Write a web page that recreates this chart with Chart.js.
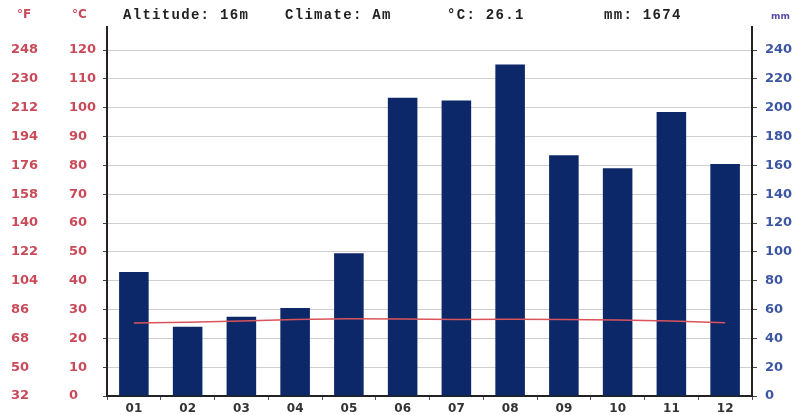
<!DOCTYPE html>
<html>
<head>
<meta charset="utf-8">
<script src="https://cdn.jsdelivr.net/npm/chart.js@4"></script>
<style>
html,body{margin:0;padding:0;background:#fff;}
#wrap{width:802px;height:415px;}
</style>
</head>
<body>
<div id="wrap"><canvas id="c" width="802" height="415"></canvas></div>
<script>
// ---- data ----
const months = ["01","02","03","04","05","06","07","08","09","10","11","12"];
const precipMm = [86, 48, 55, 61, 99, 207, 205, 230, 167, 158, 197, 161];
const tempC = [25.3, 25.6, 26.0, 26.5, 26.8, 26.7, 26.5, 26.6, 26.5, 26.4, 26.0, 25.4];
const headerTexts = ["Altitude: 16m", "Climate: Am", "°C: 26.1", "mm: 1674"];
const unitLabels = ["°F", "°C", "mm"];
const cTickValues = [0,10,20,30,40,50,60,70,80,90,100,110,120];
const fTickValues = [32,50,68,86,104,122,140,158,176,194,212,230,248];
const mmTickValues = [0,20,40,60,80,100,120,140,160,180,200,220,240];

const RED = '#c94a58';
const BLUE = '#3d56a3';
const NAVY = '#0c2868';

const headerPlugin = {
  id: 'header',
  afterDraw(chart) {
    const ctx = chart.ctx;
    ctx.save();
    ctx.textBaseline = 'middle';
    ctx.font = 'bold 12px "DejaVu Sans"';
    ctx.fillStyle = RED;
    ctx.textAlign = 'left';
    ctx.fillText(unitLabels[0], 17, 15);
    ctx.fillText(unitLabels[1], 72, 15);
    ctx.fillStyle = '#5a4aa8';
    ctx.font = 'bold 9px "DejaVu Sans"';
    ctx.fillText(unitLabels[2], 771, 17);
    ctx.fillStyle = '#222';
    ctx.font = 'bold 14px "Liberation Mono"';
    try { ctx.letterSpacing = '1.3px'; } catch(e) {}
    const xs = [123, 285, 447, 604];
    headerTexts.forEach((t, i) => ctx.fillText(t, xs[i], 15));
    ctx.restore();
  }
};

function stepTicks(min, max, step) {
  const out = [];
  for (let v = min; v <= max + 1e-9; v += step) out.push({value: v});
  return out;
}

const labelFont = { family: 'DejaVu Sans', size: 13, weight: 'bold' };

new Chart(document.getElementById('c'), {
  data: {
    labels: months,
    datasets: [
      {
        type: 'line',
        data: tempC,
        yAxisID: 'y',
        borderColor: '#d9545a',
        borderWidth: 1.5,
        pointRadius: 0,
        tension: 0,
        order: 0
      },
      {
        type: 'bar',
        data: precipMm,
        yAxisID: 'y2',
        backgroundColor: NAVY,
        barPercentage: 0.55,
        categoryPercentage: 1.0,
        order: 1
      }
    ]
  },
  options: {
    responsive: false,
    animation: false,
    layout: { padding: { top: 27, right: 0, left: 11, bottom: 0 } },
    plugins: { legend: { display: false }, tooltip: { enabled: false } },
    scales: {
      x: {
        offset: true,
        grid: { offset: true, drawOnChartArea: false, drawTicks: true, tickLength: 4, tickColor: '#555' },
        border: { color: '#222', width: 2 },
        ticks: { color: '#333', font: { family: 'DejaVu Sans', size: 12, weight: 'bold' }, padding: 2 },
        afterFit(s) { s.height = 19; }
      },
      yF: {
        type: 'linear',
        position: 'left',
        weight: 10,
        min: 32,
        max: 32 + 128 * 1.8,
        afterBuildTicks(s) { s.ticks = fTickValues.map(v => ({value: v})); },
        grid: { display: false, drawTicks: false },
        border: { display: false },
        ticks: { color: RED, font: labelFont, crossAlign: 'far', padding: 2, callback: v => v },
        afterFit(s) { s.width = 58; }
      },
      y: {
        type: 'linear',
        position: 'left',
        weight: 0,
        min: 0,
        max: 128,
        afterBuildTicks(s) { s.ticks = stepTicks(0, 125, 5); },
        grid: {
          color: c => (c.tick && c.tick.value % 10 === 0 && c.tick.value > 0 && c.tick.value <= 120) ? '#cfcfcf' : 'rgba(0,0,0,0)',
          tickColor: '#444',
          tickLength: 4,
          lineWidth: 1
        },
        border: { color: '#2a2020', width: 2 },
        ticks: {
          color: RED,
          font: labelFont,
          crossAlign: 'far',
          padding: 3,
          callback: v => (cTickValues.includes(v) ? v : '')
        },
        afterFit(s) { s.width = 38; }
      },
      y2: {
        type: 'linear',
        position: 'right',
        min: 0,
        max: 256,
        afterBuildTicks(s) { s.ticks = stepTicks(0, 250, 10); },
        grid: { drawOnChartArea: false, tickColor: '#444', tickLength: 5 },
        border: { color: '#222', width: 2 },
        ticks: {
          color: BLUE,
          font: labelFont,
          padding: 8,
          callback: v => (mmTickValues.includes(v) ? v : '')
        },
        afterFit(s) { s.width = 50; }
      }
    }
  },
  plugins: [headerPlugin]
});
</script>
</body>
</html>
